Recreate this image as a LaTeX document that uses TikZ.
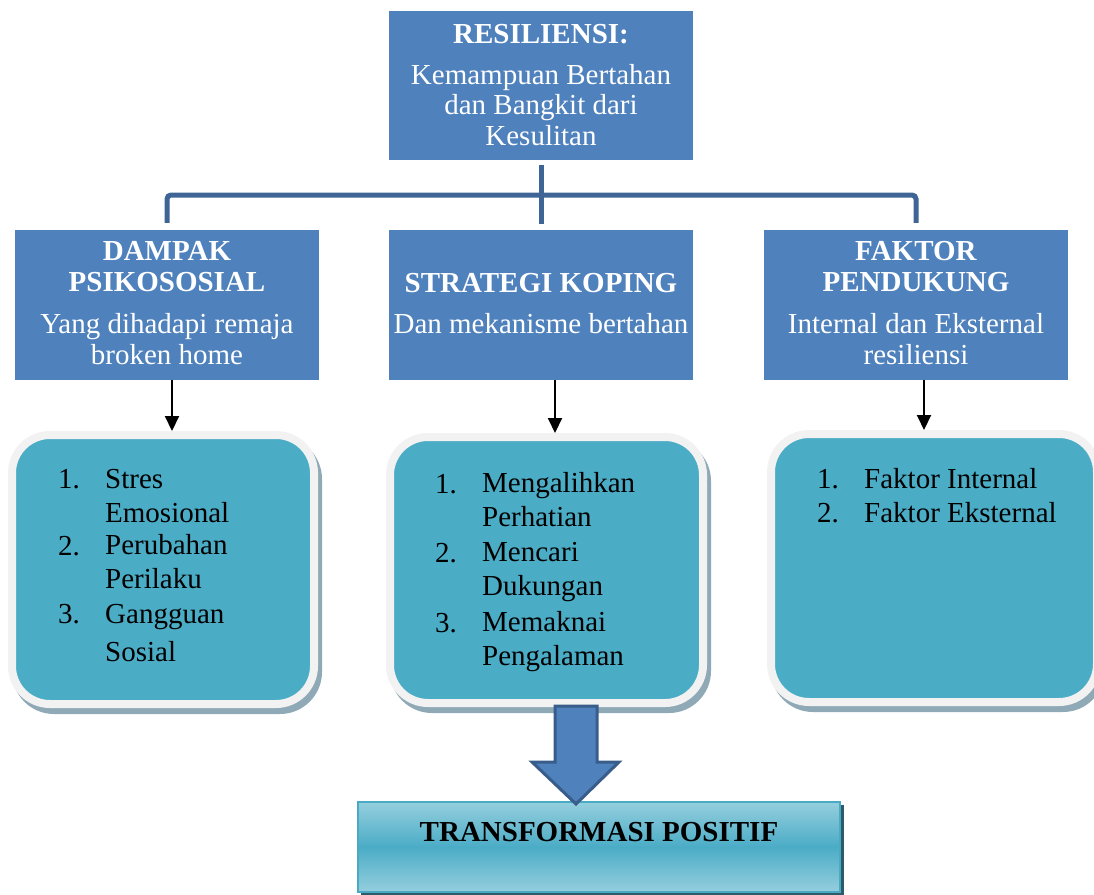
\documentclass[tikz,border=0pt]{standalone}
\usepackage{fontspec}
\setmainfont{Liberation Serif}
\usetikzlibrary{arrows.meta,backgrounds,calc}
\definecolor{hdrblue}{HTML}{4F81BD}
\definecolor{connblue}{HTML}{3E6595}
\definecolor{tealfill}{HTML}{4BACC6}
\definecolor{rimwhite}{HTML}{F2F2F2}
\definecolor{shadowc}{HTML}{8FAAB6}
\definecolor{arrowedge}{HTML}{385D8A}
\definecolor{lightteal}{HTML}{95CFDE}
\definecolor{darkshadow}{HTML}{2C5B69}
\definecolor{boxedge}{HTML}{4AAAC4}
\begin{document}
\begin{tikzpicture}[x=1pt,y=-1pt,
  hdrbox/.style={fill=hdrblue, draw=none, inner sep=0pt, minimum width=304pt, minimum height=150pt},
  hdrtext/.style={text=white, align=center, font=\fontsize{29}{30.5}\selectfont, inner sep=0pt, anchor=base},
  conn/.style={draw=connblue, line width=5pt, rounded corners=4pt},
  smallarrow/.style={draw=black, line width=2pt, -{Triangle[width=14pt,length=15pt]}},
  rbox/.style={fill=tealfill, draw=rimwhite, line width=8pt, rounded corners=38pt, inner sep=0pt},
  listtext/.style={text=black, align=left, font=\fontsize{29}{33.5}\selectfont, inner sep=0pt, anchor=base west},
  blockarrow/.style={fill=hdrblue, draw=arrowedge, line width=3pt, line join=miter},
  resultbox/.style={top color=lightteal, bottom color=lightteal, middle color=tealfill, draw=boxedge, line width=2pt,
    inner sep=0pt, minimum width=482pt, minimum height=90pt, font=\fontsize{29}{30}\selectfont\bfseries,
    text height=19pt, text depth=30pt}
]
\useasboundingbox (0,0) rectangle (1094,894);
\clip (0,0) rectangle (1094,894);

% header boxes
\node[hdrbox, minimum height=149pt] (top) at (541,85.5) {};
\node[hdrbox] (hl) at (167,305) {};
\node[hdrbox] (hm) at (541,305) {};
\node[hdrbox] (hr) at (916,305) {};

\node[hdrtext] (toptext) at (541,145) {\textbf{RESILIENSI:}\\[10pt]Kemampuan Bertahan\\dan Bangkit dari\\Kesulitan};
\node[hdrtext] (hltext) at (167,364) {\textbf{DAMPAK}\\\textbf{PSIKOSOSIAL}\\[12pt]Yang dihadapi remaja\\broken home};
\node[hdrtext] (hmtext) at (541,333) {\textbf{STRATEGI KOPING}\\[10pt]Dan mekanisme bertahan};
\node[hdrtext] (hrtext) at (916,364) {\textbf{FAKTOR}\\\textbf{PENDUKUNG}\\[12pt]Internal dan Eksternal\\resiliensi};

% tree connectors
\coordinate (bus) at (541,195);
\draw[conn, shorten <=5pt, shorten >=6pt] (top.south) -- (hm.north);
\draw[conn, shorten <=7pt, shorten >=7pt] (hl.north) -- (hl.north |- bus) -- (hr.north |- bus) -- (hr.north);

% rounded list boxes
\node[rbox, minimum width=302pt, minimum height=269pt] (bl) at (163,569.5) {};
\node[rbox, minimum width=313pt, minimum height=266pt] (bm) at (546.5,570) {};
\node[rbox, minimum width=326pt, minimum height=268pt] (br) at (934,568) {};
\begin{scope}[on background layer]
  \foreach \b in {bl,bm,br}{
    \fill[shadowc, rounded corners=42pt] ($(\b.north west)+(4,6)$) rectangle ($(\b.south east)+(4,6)$);
  }
\end{scope}

% small arrows
\draw[smallarrow] ([xshift=5pt]hl.south) -- ([xshift=5pt]hl.south |- bl.north);
\draw[smallarrow] ([xshift=14pt]hm.south) -- ([xshift=14pt]hm.south |- bm.north);
\draw[smallarrow] ([xshift=8pt]hr.south) -- ([xshift=8pt]hr.south |- br.north);

% list texts
\node[listtext] (l1n) at (58,488) {1.};
\node[listtext] (l1t) at (105,522) {Stres\\Emosional};
\node[listtext] (l2n) at (58,555) {2.};
\node[listtext] (l2t) at (105,588) {Perubahan\\Perilaku};
\node[listtext] (l3n) at (58,623) {3.};
\node[listtext, font=\fontsize{29}{38}\selectfont] (l3t) at (105,661) {Gangguan\\Sosial};

\node[listtext] (m1n) at (435,493) {1.};
\node[listtext] (m1t) at (482,526) {Mengalihkan\\Perhatian};
\node[listtext] (m2n) at (435,562) {2.};
\node[listtext] (m2t) at (482,595) {Mencari\\Dukungan};
\node[listtext] (m3n) at (435,632) {3.};
\node[listtext] (m3t) at (482,665) {Memaknai\\Pengalaman};

\node[listtext] (r1n) at (817,488) {1.};
\node[listtext] (r1t) at (864,488) {Faktor Internal};
\node[listtext] (r2n) at (817,522) {2.};
\node[listtext] (r2t) at (864,522) {Faktor Eksternal};

% result box
\node[resultbox] (res) at (599,847) {TRANSFORMASI POSITIF};
\begin{scope}[on background layer]
  \fill[darkshadow] ($(res.north west)+(4,4)$) rectangle ($(res.south east)+(3,3)$);
\end{scope}

% block arrow
\draw[blockarrow] (555,706) -- (597,706) -- (597,762) -- (619,762) -- (576,804) -- (532,762) -- (555,762) -- cycle;
\end{tikzpicture}
\end{document}
